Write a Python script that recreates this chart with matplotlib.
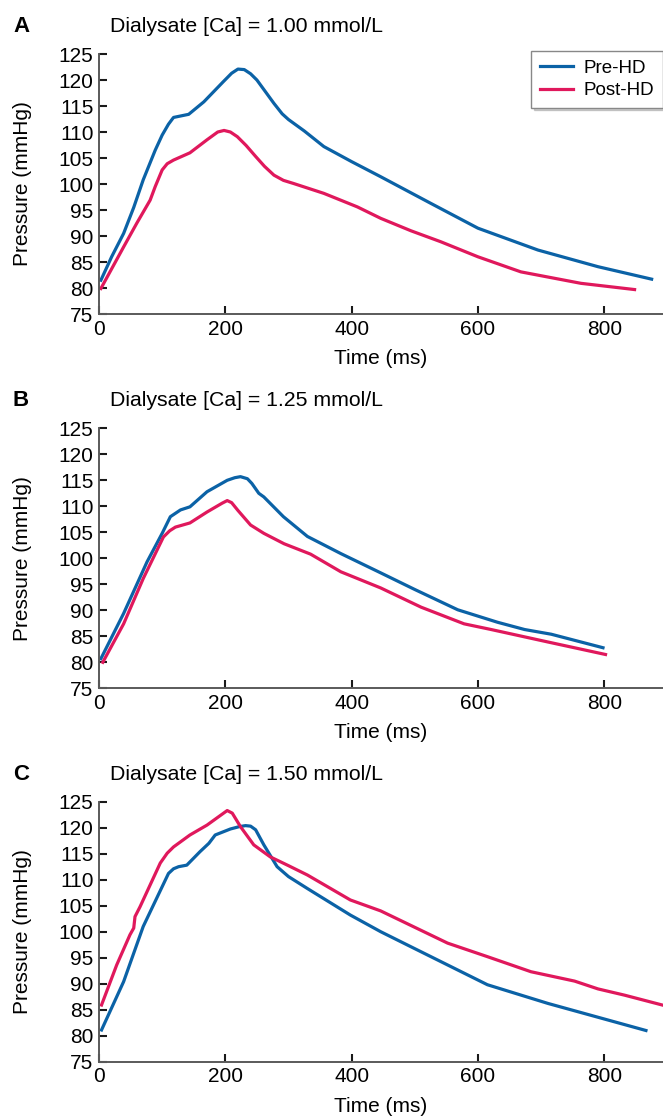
import numpy as np
import matplotlib
matplotlib.use('Agg')
from matplotlib import pyplot as plt

plt.rcParams['font.family'] = ['Liberation Sans', 'DejaVu Sans']

# panel A: dialysate Ca 1.00 mmol/L
a_pre_t = [3, 20, 39, 55, 70, 89, 100, 110, 118, 130, 142, 166, 197, 210, 220, 230, 240, 250, 262, 277, 290, 300, 325, 356, 400, 446, 525, 600, 695, 790, 875]
a_pre_p = [81.5, 86, 90.5, 95.5, 100.8, 106.5, 109.4, 111.5, 112.8, 113.1, 113.4, 115.8, 119.7, 121.3, 122.1, 122, 121.2, 120, 118, 115.5, 113.5, 112.4, 110.2, 107.2, 104.3, 101.4, 96.3, 91.5, 87.3, 84.1, 81.7]
a_post_t = [3, 39, 60, 81, 89, 100, 108, 118, 144, 171, 188, 198, 208, 219, 233, 248, 262, 277, 292, 308, 356, 409, 446, 494, 541, 600, 668, 763, 848]
a_post_p = [79.9, 87.9, 92.5, 96.9, 99.5, 102.7, 103.9, 104.6, 106, 108.5, 110, 110.3, 110, 109.1, 107.4, 105.3, 103.4, 101.7, 100.7, 100.1, 98.2, 95.6, 93.4, 91, 88.9, 86, 83.1, 80.9, 79.7]

# panel B: dialysate Ca 1.25 mmol/L
b_pre_t = [3, 39, 76, 100, 113, 129, 144, 171, 203, 215, 224, 235, 242, 253, 261, 292, 330, 383, 446, 500, 568, 631, 674, 716, 798]
b_pre_p = [80.7, 89.4, 99.3, 104.8, 108, 109.3, 109.9, 112.8, 115, 115.5, 115.7, 115.3, 114.4, 112.5, 111.8, 108, 104.2, 100.9, 97.2, 94, 90.1, 87.7, 86.3, 85.4, 82.8]
b_post_t = [6, 39, 70, 102, 112, 121, 144, 171, 195, 203, 210, 220, 240, 261, 293, 335, 383, 446, 510, 578, 621, 711, 802]
b_post_p = [80, 87.4, 96.1, 104.1, 105.3, 106, 106.8, 108.9, 110.6, 111.1, 110.7, 109.2, 106.4, 104.8, 102.8, 100.8, 97.4, 94.3, 90.6, 87.4, 86.3, 83.9, 81.5]

# panel C: dialysate Ca 1.50 mmol/L
c_pre_t = [4, 39, 70, 110, 118, 126, 139, 160, 174, 184, 208, 222, 232, 240, 248, 261, 282, 300, 330, 398, 446, 494, 615, 711, 866]
c_pre_p = [81.1, 90.4, 101, 111.2, 112.1, 112.5, 112.8, 115.4, 117, 118.6, 119.75, 120.2, 120.4, 120.3, 119.6, 116.7, 112.5, 110.6, 108.3, 103.2, 100, 97.1, 89.8, 86.2, 81]
c_post_t = [4, 28, 49, 55, 57, 65, 97, 108, 118, 144, 171, 195, 203, 211, 224, 245, 271, 300, 330, 398, 446, 552, 615, 684, 753, 790, 832, 895]
c_post_p = [85.9, 93.6, 99.4, 100.7, 102.9, 104.8, 113.2, 115.1, 116.3, 118.6, 120.5, 122.6, 123.3, 122.8, 120.2, 116.7, 114.4, 112.7, 110.9, 106.1, 104, 97.8, 95.2, 92.3, 90.5, 89, 87.8, 85.8]

letters = ['A', 'B', 'C']
titles = ['Dialysate [Ca] = 1.00 mmol/L', 'Dialysate [Ca] = 1.25 mmol/L', 'Dialysate [Ca] = 1.50 mmol/L']
pre = [(a_pre_t, a_pre_p), (b_pre_t, b_pre_p), (c_pre_t, c_pre_p)]
post = [(a_post_t, a_post_p), (b_post_t, b_post_p), (c_post_t, c_post_p)]
xticks = [0, 200, 400, 600, 800]
yticks = list(range(75, 126, 5))

pre_color = '#0b62a6'
post_color = '#e0185c'

W, H = 663, 1119
fig = plt.figure(figsize=(W / 100, H / 100), dpi=100)

tops = [54, 428.3, 801.7]
left, right = 99, 663
ax_h = 260

for i in range(3):
    top = tops[i]
    ax = fig.add_axes([left / W, 1 - (top + ax_h) / H, (right - left) / W, ax_h / H])
    ax.plot(*pre[i], color=pre_color, lw=2.3, label='Pre-HD', solid_joinstyle='round')
    ax.plot(*post[i], color=post_color, lw=2.3, label='Post-HD', solid_joinstyle='round')
    ax.set_xlim(0, 893)
    ax.set_ylim(75, 125)
    ax.set_xticks(xticks)
    ax.set_yticks(yticks)
    ax.tick_params(direction='in', length=6, width=1.5, color='#1a1a1a', labelsize=15, pad=4)
    for s in ['top', 'right']:
        ax.spines[s].set_visible(False)
    for s in ['left', 'bottom']:
        ax.spines[s].set_color('#5a5a5a')
        ax.spines[s].set_linewidth(1.4)
    ax.set_xlabel('Time (ms)', fontsize=15)
    ax.set_ylabel('Pressure (mmHg)', fontsize=15)
    ax.xaxis.set_label_coords(0.5, -0.135)
    ax.yaxis.set_label_coords(-0.118, 0.5)

    base = 32 + (top - tops[0])
    fig.text(13 / W, 1 - base / H, letters[i], fontsize=16, fontweight='bold', va='baseline')
    fig.text(110 / W, 1 - base / H, titles[i], fontsize=15.3, va='baseline')

    if i == 0:
        leg = ax.legend(loc='upper right', bbox_to_anchor=(1.0, 1.0115), borderaxespad=0,
                        fontsize=13.5, frameon=True, fancybox=False,
                        shadow={'ox': 1.5, 'oy': -1.5, 'alpha': 0.25},
                        handlelength=1.75, handletextpad=0.6, borderpad=0.45,
                        labelspacing=0.3, framealpha=1)
        leg.get_frame().set_edgecolor('#888888')
        leg.get_frame().set_linewidth(1.0)

fig.savefig('out.png', dpi=100)
